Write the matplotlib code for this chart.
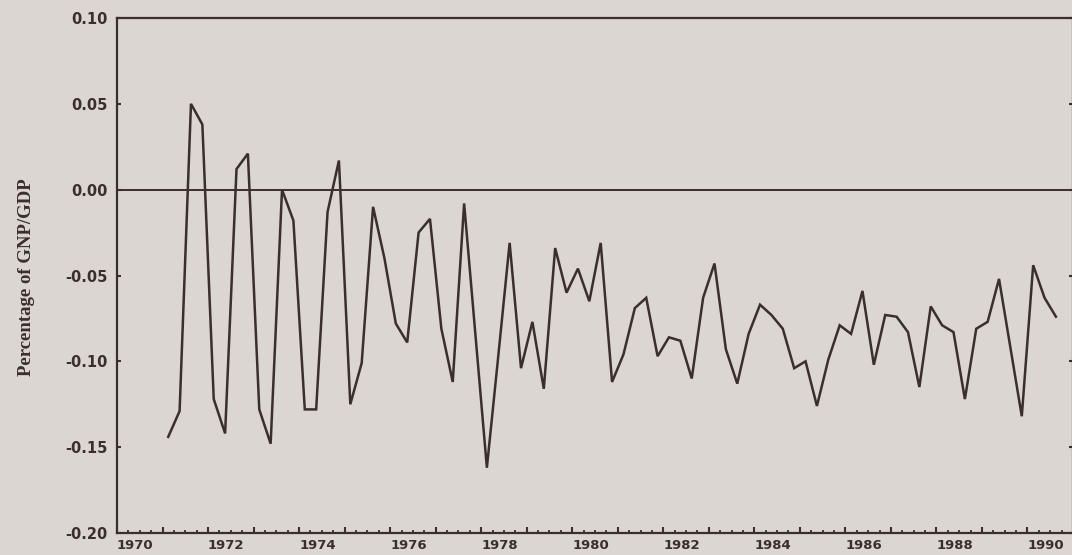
import matplotlib
matplotlib.use("Agg")
import matplotlib.pyplot as plt
from matplotlib.ticker import MultipleLocator
import numpy as np

# quarterly series, 1971Q1 .. 1990Q3
start_year = 1971
values = [
    -0.144, -0.129, 0.050, 0.038, -0.122, -0.142, 0.012, 0.021,
    -0.128, -0.148, 0.000, -0.018, -0.128, -0.128, -0.013, 0.017,
    -0.125, -0.101, -0.010, -0.040, -0.078, -0.089, -0.025, -0.017,
    -0.081, -0.112, -0.008, -0.085, -0.162, -0.097, -0.031, -0.104,
    -0.077, -0.116, -0.034, -0.060, -0.046, -0.065, -0.031, -0.112,
    -0.096, -0.069, -0.063, -0.097, -0.086, -0.088, -0.110, -0.063,
    -0.043, -0.093, -0.113, -0.084, -0.067, -0.073, -0.081, -0.104,
    -0.100, -0.126, -0.099, -0.079, -0.084, -0.059, -0.102, -0.073,
    -0.074, -0.083, -0.115, -0.068, -0.079, -0.083, -0.122, -0.081,
    -0.077, -0.052, -0.092, -0.132, -0.044, -0.063, -0.074,
]
year_ticks = list(range(1970, 1991))
year_labels = [str(y) if y % 2 == 0 else "" for y in year_ticks]
y_ticks = [0.10, 0.05, 0.00, -0.05, -0.10, -0.15, -0.20]
y_labels = ["0.10", "0.05", "0.00", "-0.05", "-0.10", "-0.15", "-0.20"]
ylabel_text = "Percentage of GNP/GDP"

paper = "#dbd6d2"
ink = "#3a2f2d"

plt.rcParams['axes.unicode_minus'] = False

fig = plt.figure(figsize=(10.72, 5.55), dpi=100, facecolor=paper)
ax = fig.add_axes([117 / 1072, 1 - 533 / 555, 956 / 1072, 515 / 555])
ax.set_facecolor(paper)

# quarter midpoints
t = start_year + (np.arange(len(values)) + 0.5) / 4.0
ax.plot(t, values, color=ink, lw=1.8, solid_joinstyle='miter')
ax.axhline(0, color=ink, lw=1.4)

ax.set_xlim(1970, 1991)
ax.set_ylim(-0.20, 0.10)

for s in ax.spines.values():
    s.set_color(ink)
    s.set_linewidth(1.6)

ax.set_xticks(year_ticks)
ax.set_xticklabels(year_labels, ha='left')
ax.xaxis.set_minor_locator(MultipleLocator(0.25))
ax.tick_params(axis='x', which='major', direction='in', length=4, width=1.5,
               color=ink, pad=4, labelsize=9.5, labelcolor=ink)
ax.tick_params(axis='x', which='minor', direction='in', length=2, width=1.3, color=ink)

ax.set_yticks(y_ticks)
ax.set_yticklabels(y_labels)
ax.tick_params(axis='y', which='major', direction='in', length=3, width=1.5,
               color=ink, pad=7, labelsize=10.5, labelcolor=ink, right=True)

for lab in ax.get_xticklabels() + ax.get_yticklabels():
    lab.set_fontweight('bold')
    lab.set_family('DejaVu Sans')

fig.text(27 / 1072, 1 - 277 / 555, ylabel_text, rotation=90, ha='center', va='center',
         fontsize=13.5, fontweight='bold', family='Liberation Serif', color=ink)

fig.savefig("out.png", dpi=100, facecolor=paper)
